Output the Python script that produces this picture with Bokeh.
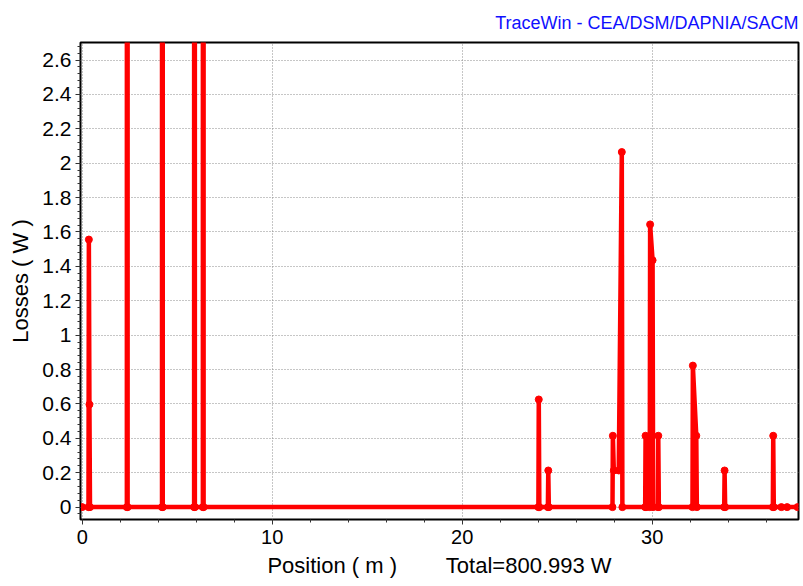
from bokeh.plotting import figure
from bokeh.models import Range1d, SingleIntervalTicker, CustomJSTickFormatter, ColumnDataSource
from bokeh.embed import file_html
from bokeh.resources import INLINE

# Loss profile (positions in m, losses in W)
position_m = [0.0, 0.33, 0.35, 0.38, 0.41,
              2.35, 2.37, 2.39,
              4.20, 4.22, 4.24,
              5.89, 5.91, 5.93,
              6.35, 6.37, 6.39,
              24.01, 24.03, 24.06,
              24.51, 24.53, 24.56,
              27.91, 27.93, 27.98, 28.24, 28.40, 28.43,
              29.63, 29.65, 29.68,
              29.87, 29.89, 30.02, 30.05,
              30.30, 30.32, 30.35,
              32.12, 32.14, 32.32, 32.35,
              33.79, 33.81, 33.84,
              36.35, 36.37, 36.40,
              36.80, 37.10, 37.65]
losses_w = [0.0, 0.0, 1.556, 0.597, 0.0,
            0.0, 250.0, 0.0,
            0.0, 300.0, 0.0,
            0.0, 140.0, 0.0,
            0.0, 99.319, 0.0,
            0.0, 0.626, 0.0,
            0.0, 0.213, 0.0,
            0.0, 0.415, 0.213, 0.213, 2.065, 0.0,
            0.0, 0.415, 0.0,
            0.0, 1.644, 1.436, 0.0,
            0.0, 0.415, 0.0,
            0.0, 0.823, 0.415, 0.0,
            0.0, 0.213, 0.0,
            0.0, 0.415, 0.0,
            0.0, 0.0, 0.0]

title_text = "TraceWin - CEA/DSM/DAPNIA/SACM"
x_label = "Position ( m )"
y_label = "Losses ( W )"
total_w = sum(losses_w)

FONT = "Liberation Sans"
NBSP = "\u00a0"

src = ColumnDataSource(dict(x=position_m, y=losses_w))

p = figure(width=803, height=586, output_backend="svg", toolbar_location=None,
           x_range=Range1d(-0.09, 37.7), y_range=Range1d(-0.072, 2.702),
           min_border_left=80, min_border_right=5, min_border_top=42, min_border_bottom=67)

p.title.text = title_text
p.title.align = "right"
p.title.text_color = "#1010FF"
p.title.text_font = FONT
p.title.text_font_style = "normal"
p.title.text_font_size = "18px"
p.title.text_line_height = 0.8
p.title.standoff = 19

p.background_fill_color = "white"
p.border_fill_color = "white"
p.outline_line_color = "black"
p.outline_line_width = 2
p.outline_line_alpha = 1.0

p.xaxis.ticker = SingleIntervalTicker(interval=10, num_minor_ticks=5)
p.yaxis.ticker = SingleIntervalTicker(interval=0.2, num_minor_ticks=5)
p.yaxis.formatter = CustomJSTickFormatter(code="return String(parseFloat(tick.toFixed(4)));")

p.xaxis.axis_label = (x_label + NBSP * 8 + "Total=%.3f" % total_w + NBSP + "W").replace(" ", NBSP)
p.yaxis.axis_label = y_label.replace(" ", NBSP)

for ax in (p.xaxis, p.yaxis):
    ax.axis_label_text_font = FONT
    ax.axis_label_text_font_style = "normal"
    ax.axis_label_text_font_size = "22px"
    ax.axis_label_text_color = "black"
    ax.major_label_text_font = FONT
    ax.major_label_text_color = "black"
    ax.axis_line_color = "black"
    ax.axis_line_width = 1
    ax.major_tick_line_color = "#333333"
    ax.minor_tick_line_color = "#333333"
    ax.major_tick_in = 0
    ax.minor_tick_in = 0
    ax.major_tick_out = 5
    ax.minor_tick_out = 3

p.xaxis.major_label_text_font_size = "20px"
p.yaxis.major_label_text_font_size = "21px"
p.xaxis.major_label_standoff = 5
p.yaxis.major_label_standoff = 4
p.xaxis.axis_label_standoff = 6
p.yaxis.axis_label_standoff = 6

for g in (p.xgrid, p.ygrid):
    g.grid_line_color = "#8c8c8c"
    g.grid_line_dash = "1 2"
    g.grid_line_width = 1

p.line("x", "y", source=src, line_color="#FF0000", line_width=4.5, line_join="round")
p.scatter("x", "y", source=src, size=7, color="#FF0000")

open("out.html", "w").write(file_html(p, INLINE))
